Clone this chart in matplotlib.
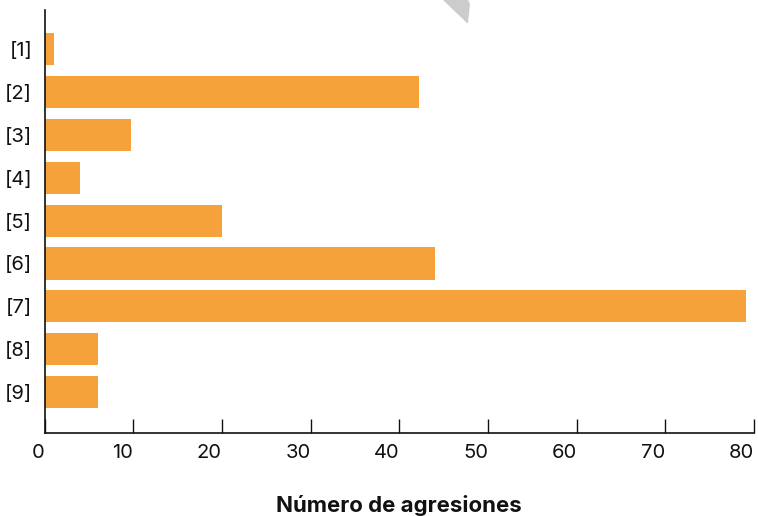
import matplotlib
matplotlib.use('Agg')
import matplotlib.pyplot as plt
from matplotlib.patches import Polygon

# Data
categories = ['[1]', '[2]', '[3]', '[4]', '[5]', '[6]', '[7]', '[8]', '[9]']
values = [1.1, 42.2, 9.7, 4.0, 20.0, 44.0, 79.1, 6.0, 6.0]
x_ticks = [0, 10, 20, 30, 40, 50, 60, 70, 80]

plt.rcParams['font.family'] = ['Inter', 'DejaVu Sans']

fig = plt.figure(figsize=(7.58, 5.16), dpi=100)
ax = fig.add_axes([0.0589, 0.1609, 0.9358, 0.8197])

ypos = list(range(len(categories)))
ax.barh(ypos, values, height=0.75, color='#F5A23A')

ax.set_xlim(0, 80)
ax.set_ylim(8.96, -0.92)
ax.set_xticks(x_ticks)
ax.set_yticks(ypos)
ax.set_yticklabels(categories)

ax.spines['top'].set_visible(False)
ax.spines['right'].set_visible(False)
for s in ['left', 'bottom']:
    ax.spines[s].set_linewidth(1.2)
    ax.spines[s].set_color('#111111')

ax.tick_params(axis='x', direction='in', length=10, width=1, pad=8,
               labelsize=14.5, colors='#111111')
ax.tick_params(axis='y', length=0, pad=9, labelsize=14.5, colors='#111111')
for lab in ax.get_xticklabels():
    lab.set_horizontalalignment('right')

ax.set_xlabel('Número de agresiones', fontsize=16, fontweight='bold',
              labelpad=24, color='#111111')

# grey shape at top edge of the picture
shape = Polygon([(443 / 758, 1.0), (468 / 758, 1.0), (470 / 758, 1 - 4 / 516),
                 (468 / 758, 1 - 23 / 516), (467 / 758, 1 - 23 / 516)],
                closed=True, transform=fig.transFigure, color='#cccccc', lw=0)
fig.patches.append(shape)

fig.savefig('out.png', dpi=100)
plt.close(fig)
